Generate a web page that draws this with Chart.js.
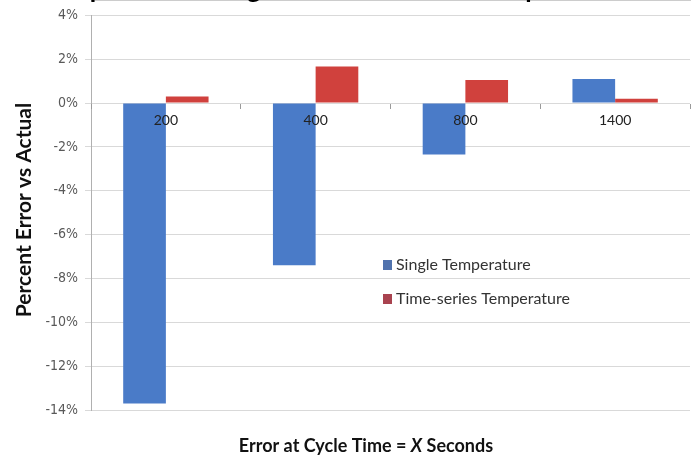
<!DOCTYPE html>
<html>
<head>
<meta charset="utf-8">
<style>
  html, body { margin: 0; padding: 0; background: #ffffff; }
  #wrap { position: relative; width: 697px; height: 459px; }
</style>
<script src="https://cdn.jsdelivr.net/npm/chart.js@4/dist/chart.umd.min.js"></script>
</head>
<body>
<div id="wrap"><canvas id="chart" width="697" height="459"></canvas></div>
<script>
// Cycle times (seconds) and percent error of each method
const categories = ['200', '400', '800', '1400'];
const singleTemperature = [-13.7, -7.4, -2.35, 1.1];
const timeSeriesTemperature = [0.3, 1.67, 1.05, 0.2];
const yTicks = [4, 2, 0, -2, -4, -6, -8, -10, -12, -14];

const seriesNames = ['Single Temperature', 'Time-series Temperature'];
const seriesColors = ['#4a7bc8', '#d0413d'];
const legendColors = ['#5072ad', '#a9434f'];

const titleText = 'Comparison of Single and Time-series Temperature';
const yTitle = 'Percent Error vs Actual';

const FONT = 'Lato, "Open Sans", sans-serif';
const NARROW = '"Liberation Sans Narrow", "Arial Narrow", "DejaVu Sans Condensed", sans-serif';

// Title, axis titles and the in-plot legend
const decorations = {
  id: 'decorations',
  afterDraw(chart) {
    const ctx = chart.ctx;
    ctx.save();

    // title sits above the top edge, only its descenders show
    ctx.fillStyle = '#000';
    ctx.font = 'bold 26px ' + FONT;
    ctx.textAlign = 'center';
    ctx.textBaseline = 'alphabetic';
    ctx.fillText(titleText, 330, -2.5);

    // y axis title
    ctx.save();
    ctx.translate(24, 210);
    ctx.rotate(-Math.PI / 2);
    ctx.font = 'bold 21px ' + FONT;
    ctx.fillStyle = '#111';
    ctx.textAlign = 'center';
    ctx.textBaseline = 'middle';
    ctx.fillText(yTitle, 0, 0);
    ctx.restore();

    // x axis title with the italic X
    const parts = [
      ['Error at Cycle Time = ', 'bold 18px ' + FONT],
      ['X', 'italic bold 18px ' + FONT],
      [' Seconds', 'bold 18px ' + FONT]
    ];
    let total = 0;
    parts.forEach(p => { ctx.font = p[1]; total += ctx.measureText(p[0]).width; });
    let x = 366 - total / 2;
    ctx.textAlign = 'left';
    ctx.textBaseline = 'middle';
    ctx.fillStyle = '#111';
    parts.forEach(p => { ctx.font = p[1]; ctx.fillText(p[0], x, 446); x += ctx.measureText(p[0]).width; });

    // legend
    const lx = 383, ly = [265, 299];
    ctx.font = '16px ' + FONT;
    ctx.textBaseline = 'middle';
    seriesNames.forEach((name, i) => {
      ctx.fillStyle = '#ffffff';
      ctx.fillRect(lx - 3, ly[i] - 10, ctx.measureText(name).width + 20, 20);
      ctx.fillStyle = legendColors[i];
      ctx.fillRect(lx, ly[i] - 5, 9, 10);
      ctx.fillStyle = '#333';
      ctx.fillText(name, lx + 13, ly[i]);
    });
    ctx.restore();
  }
};

new Chart(document.getElementById('chart'), {
  type: 'bar',
  data: {
    labels: categories,
    datasets: [
      { label: seriesNames[0], data: singleTemperature, backgroundColor: seriesColors[0] },
      { label: seriesNames[1], data: timeSeriesTemperature, backgroundColor: seriesColors[1] }
    ]
  },
  options: {
    responsive: false,
    animation: false,
    devicePixelRatio: 1,
    layout: { padding: { top: 12, bottom: 49, left: 0, right: 7 } },
    plugins: {
      legend: { display: false },
      tooltip: { enabled: false },
      title: { display: false }
    },
    datasets: {
      bar: { categoryPercentage: 0.57, barPercentage: 1.0 }
    },
    scales: {
      x: {
        position: { y: 0 },
        grid: { display: true, drawOnChartArea: false, drawTicks: true, tickLength: 5, color: '#9a9a9a', offset: true, z: 1 },
        border: { display: true, color: '#9a9a9a' },
        ticks: { z: 1, color: '#222', font: { family: FONT, size: 14 }, padding: 4 }
      },
      y: {
        min: -14,
        max: 4,
        afterBuildTicks(scale) { scale.ticks = yTicks.map(v => ({ value: v })); },
        afterFit(scale) { scale.width = 91; },
        grid: { color: '#d9d9d9', tickLength: 6, drawTicks: true },
        border: { display: true, color: '#b0b0b0' },
        ticks: {
          color: '#595959',
          padding: 7,
          font: { family: NARROW, size: 14 },
          callback: v => v + '%'
        }
      }
    }
  },
  plugins: [decorations]
});
</script>
</body>
</html>
